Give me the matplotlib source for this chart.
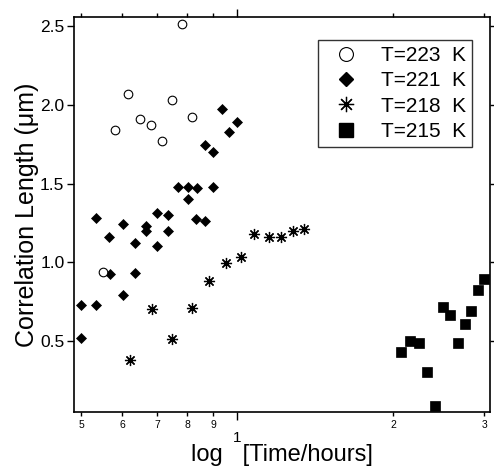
import numpy as np
import matplotlib
matplotlib.use("Agg")
import matplotlib.pyplot as plt
from matplotlib.lines import Line2D

plt.rcParams['font.family'] = ['Liberation Sans', 'DejaVu Sans']

# ---------------------------------------------
# data (time in hours, length in um)
# ---------------------------------------------
t223 = [0.551, 0.582, 0.616, 0.650, 0.682, 0.717, 0.749, 0.782, 0.818]
l223 = [0.940, 1.842, 2.069, 1.910, 1.870, 1.771, 2.031, 2.512, 1.921]

t221 = [0.500, 0.500, 0.533, 0.534, 0.566, 0.567, 0.601, 0.601, 0.634, 0.634,
        0.666, 0.666, 0.699, 0.699, 0.734, 0.734, 0.768, 0.802, 0.802, 0.836,
        0.834, 0.868, 0.868, 0.900, 0.900, 0.933, 0.966, 1.000]
l221 = [0.729, 0.519, 0.729, 1.280, 1.161, 0.924, 1.241, 0.792, 1.121, 0.930,
        1.233, 1.201, 1.313, 1.104, 1.300, 1.201, 1.476, 1.476, 1.402, 1.470,
        1.275, 1.262, 1.745, 1.699, 1.480, 1.970, 1.830, 1.891]

t218 = [0.620, 0.684, 0.750, 0.818, 0.883, 0.952, 1.018, 1.080, 1.153, 1.216,
        1.281, 1.347]
l218 = [0.379, 0.701, 0.513, 0.710, 0.881, 0.994, 1.032, 1.180, 1.159, 1.159,
        1.201, 1.210]

t215 = [2.076, 2.161, 2.249, 2.330, 2.414, 2.495, 2.581, 2.667, 2.752, 2.829,
        2.915, 3.002]
l215 = [0.430, 0.500, 0.489, 0.301, 0.089, 0.714, 0.667, 0.489, 0.610, 0.691,
        0.824, 0.894]

small_ticks = [0.5, 0.6, 0.7, 0.8, 0.9, 2, 3]
small_labels = ['5', '6', '7', '8', '9', '2', '3']
y_ticks = [0.5, 1.0, 1.5, 2.0, 2.5]

# ----------------
# plotting
# ----------------
fig = plt.figure(figsize=(4.94, 4.66), dpi=100)
ax = fig.add_axes([0.150, 0.116, 0.842, 0.8475])

star = (8, 2, 0)
ax.plot(t215, l215, ls='none', marker='s', ms=6.6, mfc='black', mec='black', mew=0.5)
ax.plot(t218, l218, ls='none', marker=star, ms=8, mec='black', mew=0.9)
ax.plot(t221, l221, ls='none', marker='D', ms=4.8, mfc='black', mec='black', mew=0.5)
ax.plot(t223, l223, ls='none', marker='o', ms=6.2, mfc='white', mec='black', mew=0.8)

ax.set_xscale('log')
ax.set_xlim(0.4844, 3.078)
ax.set_ylim(0.05, 2.557)

ax.set_xticks([1])
ax.set_xticklabels(['1'])
ax.set_xticks(small_ticks, minor=True)
ax.set_xticklabels(small_labels, minor=True)
ax.set_yticks(y_ticks)
ax.set_yticklabels(['%.1f' % v for v in y_ticks])

ax.tick_params(axis='x', which='major', direction='out', top=True, length=5.5,
               width=1, pad=8.5, labelsize=11)
ax.tick_params(axis='x', which='minor', direction='out', top=True, length=3,
               width=1, pad=2.5, labelsize=7.5)
ax.tick_params(axis='y', which='major', direction='out', right=True, length=5,
               width=1, pad=2, labelsize=12.5)
ax.tick_params(axis='y', which='minor', left=False, right=False)

for s in ax.spines.values():
    s.set_linewidth(1.2)

ax.set_xlabel('log   [Time/hours]', fontsize=17)
ax.xaxis.set_label_coords(0.5, -0.082)
ax.set_ylabel('Correlation Length (\u03bcm)', fontsize=18, labelpad=1)

handles = [
    Line2D([], [], ls='none', marker='o', ms=10, mfc='white', mec='black', mew=0.8),
    Line2D([], [], ls='none', marker='D', ms=7, mfc='black', mec='black'),
    Line2D([], [], ls='none', marker=star, ms=11, mec='black', mew=0.9),
    Line2D([], [], ls='none', marker='s', ms=10, mfc='black', mec='black'),
]
labels = ['T=223  K', 'T=221  K', 'T=218  K', 'T=215  K']
leg = ax.legend(handles, labels, loc='upper right', bbox_to_anchor=(0.957, 0.942),
                borderaxespad=0, fancybox=False, fontsize=15, handlelength=2.1,
                handletextpad=0.6, labelspacing=0.3, borderpad=0.3,
                frameon=True, edgecolor='black')
leg.get_frame().set_linewidth(1.0)

fig.savefig('out.png', dpi=100)
